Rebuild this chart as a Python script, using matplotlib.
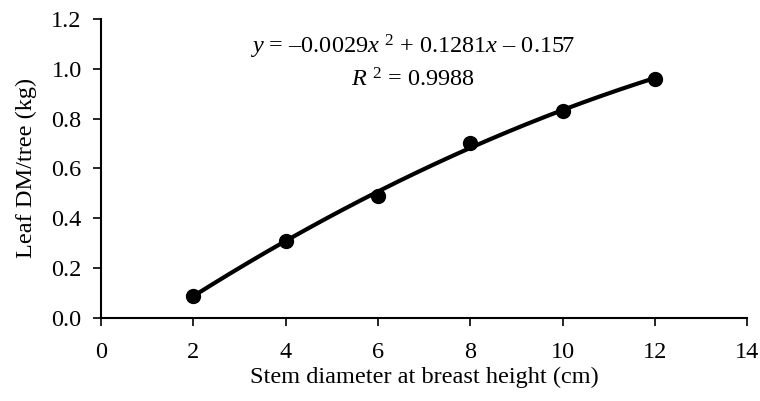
import numpy as np
import matplotlib
matplotlib.use("Agg")
import matplotlib.pyplot as plt

plt.rcParams['font.family'] = ['Liberation Serif', 'DejaVu Serif']
plt.rcParams['mathtext.fontset'] = 'custom'
plt.rcParams['mathtext.rm'] = 'Liberation Serif'
plt.rcParams['mathtext.it'] = 'Liberation Serif:italic'

diameter = [2, 4, 6, 8, 10, 12]
leaf_dm = [0.09, 0.31, 0.49, 0.70, 0.83, 0.96]
coef = [-0.0029, 0.1281, -0.157]
x_ticks = [0, 2, 4, 6, 8, 10, 12, 14]
y_ticks = [0.0, 0.2, 0.4, 0.6, 0.8, 1.0, 1.2]

fig = plt.figure(figsize=(7.6, 4.01), dpi=100)
ax = fig.add_axes([0.133, 0.207, 0.850, 0.746])

xf = np.linspace(min(diameter), max(diameter), 200)
ax.plot(xf, np.polyval(coef, xf), color='black', lw=3.0, zorder=2)
ax.plot(diameter, leaf_dm, 'o', color='black', ms=10, zorder=3)

ax.set_xlim(0, 14)
ax.set_ylim(0, 1.2)
ax.set_xticks(x_ticks)
ax.set_yticks(y_ticks)
ax.set_yticklabels([f"{v:.1f}" for v in y_ticks])
for s in ['top', 'right']:
    ax.spines[s].set_visible(False)
for s in ['left', 'bottom']:
    ax.spines[s].set_linewidth(1.5)
ax.tick_params(direction='out', length=6, width=1.2, labelsize=17.5, pad=8)
ax.tick_params(axis='x', pad=11)

ax.set_xlabel('Stem diameter at breast height (cm)', fontsize=17.5, labelpad=3)
ax.set_ylabel('Leaf DM/tree (kg)', fontsize=17.5, labelpad=10)

ax.text(0.483, 0.905, r'$y$ = –0.0029$x$ $^{2}$ + 0.1281$x$ – 0.157', transform=ax.transAxes,
        ha='center', va='center', fontsize=17.5)
ax.text(0.483, 0.795, r'$R$ $^{2}$ = 0.9988', transform=ax.transAxes,
        ha='center', va='center', fontsize=17.5)

fig.savefig('out.png', dpi=100)
